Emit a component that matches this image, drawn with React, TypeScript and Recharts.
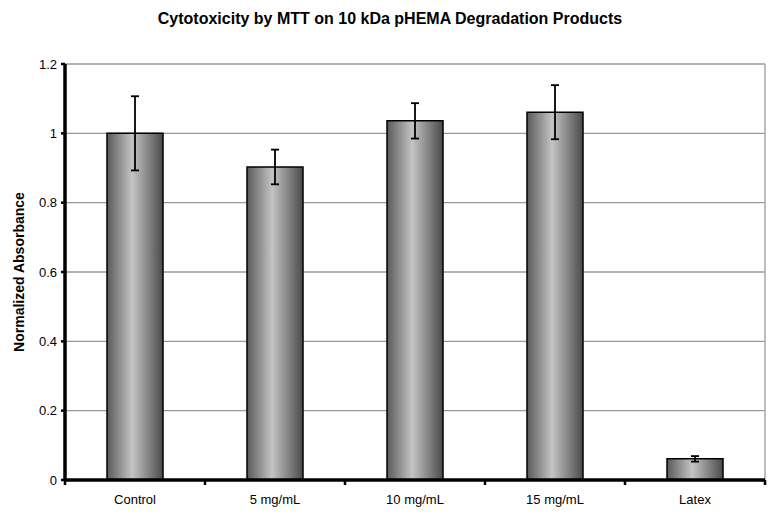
import React from 'react';
import { BarChart, Bar, XAxis, YAxis, CartesianGrid, ErrorBar } from 'recharts';

const categories = ['Control', '5 mg/mL', '10 mg/mL', '15 mg/mL', 'Latex'];
const absorbance = [1.0, 0.903, 1.036, 1.061, 0.061];
const errors = [0.107, 0.05, 0.051, 0.078, 0.008];
const yTicks = [0, 0.2, 0.4, 0.6, 0.8, 1, 1.2];

const data = categories.map((name, i) => ({ name, value: absorbance[i], err: errors[i] }));

const W = 780;
const H = 522;
const X_AXIS_H = 30;
const MARGIN = { top: 64, right: 15, bottom: 42 - X_AXIS_H, left: 0 };
const Y_AXIS_W = 65;
const PLOT_W = W - MARGIN.left - MARGIN.right - Y_AXIS_W;
const BAND = PLOT_W / categories.length;
const FONT = 'Liberation Sans, Arial, sans-serif';

const XTick = (props: any) => {
  const { x, y, payload, index } = props;
  const axisY = y - 12;
  return (
    <g>
      <line x1={x - BAND / 2} x2={x - BAND / 2} y1={axisY} y2={axisY + 5} stroke="#000" strokeWidth={2.5} />
      {index === categories.length - 1 && (
        <line x1={x + BAND / 2} x2={x + BAND / 2} y1={axisY} y2={axisY + 5} stroke="#000" strokeWidth={2.5} />
      )}
      <text x={x} y={y} dy={12} textAnchor="middle" fontSize={13} fontFamily={FONT} fill="#000">
        {payload.value}
      </text>
    </g>
  );
};

export default function App() {
  return (
    <div style={{ position: 'absolute', left: 0, top: 0, width: W, height: H, background: '#fff' }}>
      <div
        style={{
          position: 'absolute',
          left: 0,
          width: W,
          top: 10,
          textAlign: 'center',
          fontFamily: FONT,
          fontWeight: 'bold',
          fontSize: 16,
          color: '#000',
        }}
      >
        Cytotoxicity by MTT on 10 kDa pHEMA Degradation Products
      </div>
      <BarChart width={W} height={H} data={data} margin={MARGIN} barCategoryGap="30%">
        <defs>
          <linearGradient id="barGrad" x1="0" y1="0" x2="1" y2="0">
            <stop offset="0%" stopColor="#5a5a5a" />
            <stop offset="45%" stopColor="#c4c4c4" />
            <stop offset="100%" stopColor="#4a4a4a" />
          </linearGradient>
        </defs>
        <CartesianGrid
          stroke="#999"
          strokeWidth={1.3}
          horizontal={true}
          vertical={true}
          verticalCoordinatesGenerator={({ offset }: any) => [offset.left + offset.width]}
        />
        <XAxis
          dataKey="name"
          height={X_AXIS_H}
          tickLine={false}
          axisLine={{ stroke: '#000', strokeWidth: 3.5 }}
          tick={<XTick />}
          interval={0}
          tickMargin={12}
          tickSize={0}
        />
        <YAxis
          width={Y_AXIS_W}
          domain={[0, 1.2]}
          ticks={yTicks}
          interval={0}
          axisLine={{ stroke: '#000', strokeWidth: 3.5 }}
          tickLine={{ stroke: '#000', strokeWidth: 2.5 }}
          tickSize={4}
          tickMargin={4}
          tick={{ fontSize: 13, fontFamily: FONT, fill: '#000' }}
          tickFormatter={(v: number) => String(v)}
          label={{
            value: 'Normalized Absorbance',
            angle: -90,
            position: 'insideLeft',
            dx: 14,
            style: { fontSize: 14, fontWeight: 'bold', fontFamily: FONT, fill: '#000', textAnchor: 'middle' },
          }}
        />
        <Bar dataKey="value" fill="url(#barGrad)" stroke="#000" strokeWidth={1.5} isAnimationActive={false}>
          <ErrorBar dataKey="err" width={4} stroke="#000" strokeWidth={1.8} direction="y" />
        </Bar>
      </BarChart>
    </div>
  );
}
